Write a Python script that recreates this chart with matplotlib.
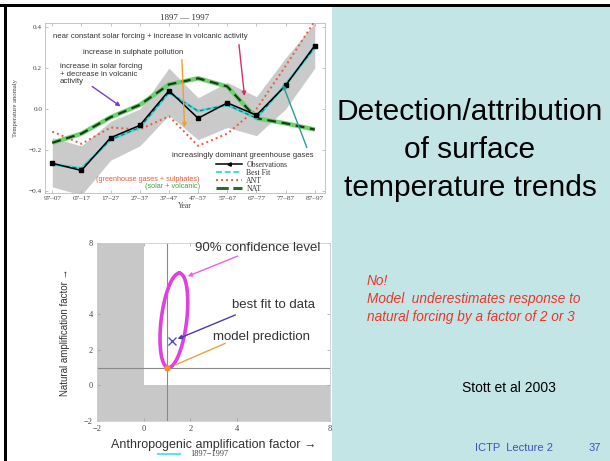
import numpy as np
import matplotlib.pyplot as plt
from matplotlib.lines import Line2D
from matplotlib.patches import Rectangle

W, H = 610, 461

# decadal temperature anomalies, 1897-1997
periods = ['97–07', '07–17', '17–27', '27–37', '37–47', '47–57', '57–67', '67–77', '77–87', '87–97']
obs = [-0.265, -0.30, -0.14, -0.08, 0.09, -0.045, 0.03, -0.03, 0.115, 0.31]
best_fit = [-0.27, -0.29, -0.15, -0.09, 0.08, -0.01, 0.02, -0.045, 0.12, 0.30]
ant = [-0.11, -0.17, -0.09, -0.10, -0.035, -0.18, -0.12, 0.0, 0.21, 0.43]
nat = [-0.165, -0.12, -0.04, 0.02, 0.12, 0.15, 0.11, -0.045, -0.07, -0.10]
band_hi = [-0.14, -0.18, -0.06, 0.0, 0.20, 0.055, 0.13, 0.06, 0.25, 0.42]
band_lo = [-0.38, -0.42, -0.25, -0.18, -0.03, -0.15, -0.09, -0.13, 0.0, 0.20]

# amplification factors (anthropogenic, natural)
ell_center = (1.3, 3.65)
ell_major = (0.23, 2.65)
ell_minor = (0.55, 0.0)
best_fit_pt = (1.24, 2.47)
model_pt = (1.0, 1.0)
amp_ticks = [-2, 0, 2, 4, 8]


def fx(px):
    return px / W


def fy(py):
    return 1 - py / H


def rect(left, top, right, bottom):
    return [fx(left), fy(bottom), (right - left) / W, (bottom - top) / H]


fig = plt.figure(figsize=(6.1, 4.61), dpi=100)
fig.patch.set_facecolor('white')

# slide background pieces
fig.add_artist(Rectangle((fx(332), 0), 1 - fx(332), fy(7), transform=fig.transFigure,
                         facecolor='#c3e5e6', edgecolor='none', zorder=0))
fig.add_artist(Rectangle((0, fy(7)), 1, 3 / H, transform=fig.transFigure,
                         facecolor='black', edgecolor='none', zorder=5))
fig.add_artist(Rectangle((fx(4), 0), 3 / W, fy(4), transform=fig.transFigure,
                         facecolor='black', edgecolor='none', zorder=5))

serif = 'Liberation Serif'
sans = ['Liberation Sans', 'DejaVu Sans']

# ---- top panel: temperature anomaly ----
ax = fig.add_axes(rect(45, 23, 325, 193))
x = np.arange(len(periods))
ax.fill_between(x, band_lo, band_hi, color='#cacaca', lw=0, zorder=1)
ax.plot(x, ant, color='#ee5a3c', lw=1.4, ls=(0, (1, 1.6)), zorder=3)
ax.plot(x, nat, color='#6cd26c', lw=3.2, zorder=3, solid_capstyle='butt')
ax.plot(x, nat, color='#1a3a1a', lw=1.6, ls=(0, (4, 2.5)), zorder=4)
ax.plot(x, best_fit, color='#48d8d8', lw=2.0, zorder=5)
ax.plot(x, best_fit, color='#2a5a6a', lw=0.7, ls=(0, (4, 3)), zorder=6)
ax.plot(x, obs, color='black', lw=1.1, marker='s', ms=2.2, zorder=7)

ax.set_xlim(-0.25, 9.35)
ax.set_ylim(-0.41, 0.42)
ax.set_xticks(x)
ax.set_xticklabels(periods, fontsize=5.2, family=serif, color='#444444')
ax.set_yticks([-0.4, -0.2, 0.0, 0.2, 0.4])
ax.set_yticklabels(['−0.4', '−0.2', '0.0', '0.2', '0.4'], fontsize=5.2, family=serif, color='#444444')
ax.tick_params(direction='in', length=2.5, width=0.5, color='#aaaaaa', pad=2, top=True, right=True)
for s in ax.spines.values():
    s.set_color('#bbbbbb')
    s.set_linewidth(0.6)
ax.set_xlabel('Year', fontsize=5.5, family=serif, color='#444444', labelpad=1)
ax.set_ylabel('Temperature anomaly', fontsize=4.8, family=serif, color='#444444', labelpad=8)
ax.set_title('1897 — 1997', fontsize=6.5, family=serif, color='#333333', pad=2)

tk = dict(fontsize=5.6, family=sans, color='#333333')
ax.text(0.02, 0.353, 'near constant solar forcing + increase in volcanic activity', va='center', **tk)
ax.text(1.05, 0.275, 'increase in sulphate pollution', va='center', **tk)
ax.text(0.26, 0.225, 'increase in solar forcing\n+ decrease in volcanic\nactivity', va='top',
        linespacing=1.15, **tk)
ax.text(4.1, -0.225, 'increasingly dominant greenhouse gases', va='center', **tk)

arrows = [((1.29, 0.118), (2.42, 0.005), '#7a3ad8'),
          ((4.44, 0.255), (4.54, -0.103), '#f0a030'),
          ((6.39, 0.328), (6.60, 0.050), '#d83060'),
          ((8.76, -0.200), (7.87, 0.132), '#2a9a9a')]
for tail, head, c in arrows:
    ax.annotate('', xy=head, xytext=tail,
                arrowprops=dict(arrowstyle='-|>', color=c, lw=1.0, mutation_scale=6), zorder=8)

handles = [Line2D([], [], color='black', lw=1.1, marker='<', ms=2.5, markevery=[0]),
           Line2D([], [], color='#48d8d8', lw=1.4, ls=(0, (3, 1.5))),
           Line2D([], [], color='#ee5a3c', lw=1.4, ls=(0, (1, 1.6))),
           Line2D([], [], color='#2a6a2a', lw=2.2, ls=(0, (4, 1.5)))]
leg = ax.legend(handles, ['Observations', 'Best Fit', 'ANT', 'NAT'], loc='upper left',
                bbox_to_anchor=((216 - 45) / 280, (193 - 161) / 170), frameon=False,
                prop=dict(family=serif, size=5.6), handlelength=3.4, handletextpad=0.5,
                labelspacing=0.0, borderpad=0, borderaxespad=0)
for t in leg.get_texts():
    t.set_color('#333333')
ax.text(5.06, -0.343, '(greenhouse gases + sulphates)', ha='right', va='center',
        fontsize=5.2, family=sans, color='#ee5a3c')
ax.text(5.06, -0.377, '(solar + volcanic)', ha='right', va='center',
        fontsize=5.2, family=sans, color='#3aa83a')

# ---- bottom panel: amplification factors ----
bx = fig.add_axes(rect(97, 243, 330, 421))
bx.axvspan(-2, 0, color='#c8c8c8', lw=0, zorder=0)
bx.axhspan(-2, 0, color='#c8c8c8', lw=0, zorder=0)
bx.axvline(1, color='#8a8a8a', lw=0.8, zorder=1)
bx.axhline(1, color='#8a8a8a', lw=0.8, zorder=1)

t = np.linspace(0, 2 * np.pi, 200)
ex = ell_center[0] + ell_major[0] * np.cos(t) + ell_minor[0] * np.sin(t)
ey = ell_center[1] + ell_major[1] * np.cos(t) + ell_minor[1] * np.sin(t)
bx.plot(ex, ey, color='#e040e0', lw=2.6, zorder=3)
bx.plot(*best_fit_pt, marker='x', color='#5050c8', ms=6, mew=1.0, zorder=4)
bx.plot(*model_pt, marker='o', color='#ff9020', ms=3.5, zorder=4)

bx.set_xlim(-2, 8)
bx.set_ylim(-2, 8)
bx.set_xticks(amp_ticks)
bx.set_xticklabels(['−2' if v < 0 else str(v) for v in amp_ticks], fontsize=6, family=serif, color='#444444')
bx.set_yticks(amp_ticks)
bx.set_yticklabels(['−2' if v < 0 else str(v) for v in amp_ticks], fontsize=6, family=serif, color='#444444')
bx.tick_params(direction='in', length=2.5, width=0.5, color='#999999', pad=3, top=True, right=True)
for s in bx.spines.values():
    s.set_color('#cccccc')
    s.set_linewidth(0.6)
bx.set_xlabel('Anthropogenic amplification factor →', fontsize=9, family=sans, color='#333333', labelpad=4)
bx.set_ylabel('Natural amplification factor →', fontsize=7, family=sans, color='#333333', labelpad=10)

ak = dict(fontsize=9.5, family=sans, color='#333333', va='center')
bx.text(2.2, 7.7, '90% confidence level', **ak)
bx.text(3.8, 4.53, 'best fit to data', **ak)
bx.text(2.98, 2.72, 'model prediction', **ak)
bx.annotate('', xy=(1.78, 6.07), xytext=(4.14, 7.32),
            arrowprops=dict(arrowstyle='-|>', color='#f060e8', lw=1.0, mutation_scale=6), zorder=5)
bx.annotate('', xy=(1.35, 2.55), xytext=(4.05, 4.02),
            arrowprops=dict(arrowstyle='-|>', color='#4a3ab0', lw=1.0, mutation_scale=6), zorder=5)
bx.annotate('', xy=(1.22, 1.07), xytext=(3.62, 2.43),
            arrowprops=dict(arrowstyle='-', color='#f0a040', lw=1.0), zorder=5)

fig.add_artist(Line2D([fx(158), fx(180)], [fy(454), fy(454)], color='#60e0f0', lw=1.5))
fig.text(fx(190), fy(454), '1897−1997', fontsize=6, family=serif, color='#444444', va='center')

# ---- right side slide text ----
fig.text(fx(470), fy(150), 'Detection/attribution\nof surface\ntemperature trends', ha='center', va='center',
         fontsize=21.5, family=sans, color='black', linespacing=1.45)
fig.text(fx(367), fy(299), 'No!\nModel  underestimates response to\nnatural forcing by a factor of 2 or 3',
         ha='left', va='center', fontsize=9.8, family=sans, style='italic', color='#ee3528',
         linespacing=1.38)
fig.text(fx(509), fy(388), 'Stott et al 2003', ha='center', va='center', fontsize=10,
         family=sans, color='black')
fig.text(fx(475), fy(448), 'ICTP  Lecture 2', ha='left', va='center', fontsize=8,
         family=sans, color='#4050b8')
fig.text(fx(595), fy(448), '37', ha='center', va='center', fontsize=8, family=sans, color='#4050b8')

fig.savefig('out.png', dpi=100)
